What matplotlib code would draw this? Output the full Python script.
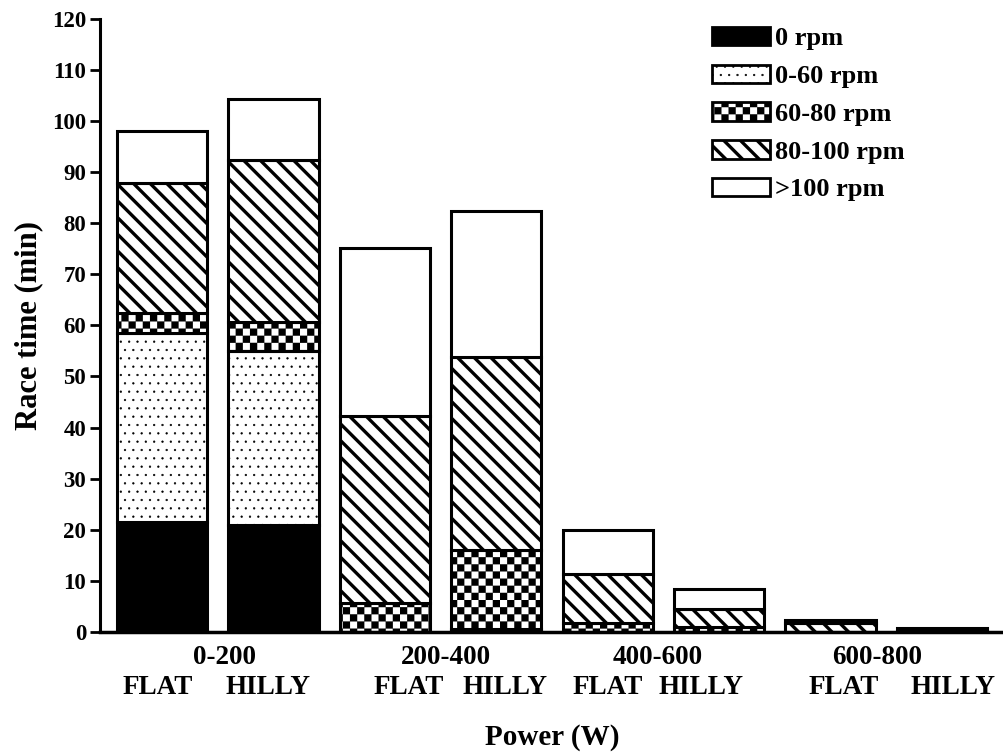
import warnings
import numpy as np
import matplotlib
matplotlib.use("Agg")
import matplotlib.pyplot as plt
import matplotlib.hatch as mhatch
from matplotlib.path import Path

warnings.filterwarnings("ignore")

# bars: FLAT / HILLY for each power band
bar_names = ["FLAT", "HILLY", "FLAT", "HILLY", "FLAT", "HILLY", "FLAT", "HILLY"]
power_bands = ["0-200", "200-400", "400-600", "600-800"]
cadence = ["0 rpm", "0-60 rpm", "60-80 rpm", "80-100 rpm", ">100 rpm"]

# minutes in each cadence band
rpm_0 = [21.5, 21.0, 0.0, 0.2, 0.0, 0.0, 0.0, 0.0]
rpm_0_60 = [37.0, 34.0, 0.0, 0.3, 0.0, 0.0, 0.0, 0.0]
rpm_60_80 = [3.9, 5.7, 5.7, 15.5, 1.8, 0.9, 0.0, 0.0]
rpm_80_100 = [25.5, 31.7, 36.6, 37.8, 9.5, 3.6, 1.8, 0.2]
rpm_100 = [10.1, 11.9, 32.8, 28.6, 8.7, 4.0, 0.6, 0.6]

# label layout (x in bar units)
band_label_x = [0.557, 2.55, 4.45, 6.42]
name_label_x = [-0.036, 0.95, 2.21, 3.08, 4.00, 4.84, 6.12, 7.10]


class Checker(mhatch.HatchPatternBase):
    # filled checkerboard hatch, selected with '#'
    def __init__(self, hatch, density):
        self.n = hatch.count('#') * 7
        self.num_vertices = self.n * self.n * 2 * 5

    def set_vertices_and_codes(self, vertices, codes):
        n = self.n
        s = 1.0 / n
        h = s / 2
        sq = np.array([[0, 0], [h, 0], [h, h], [0, h], [0, 0]], float)
        k = 0
        for i in range(n):
            for j in range(n):
                for ox, oy in ((0, 0), (h, h)):
                    vertices[k:k + 5] = sq + [i * s + ox, j * s + oy]
                    codes[k:k + 5] = [Path.MOVETO, Path.LINETO, Path.LINETO,
                                      Path.LINETO, Path.CLOSEPOLY]
                    k += 5


mhatch._hatch_types.append(Checker)

plt.rcParams['font.family'] = ['Liberation Serif', 'DejaVu Serif']
plt.rcParams['font.weight'] = 'bold'

fig = plt.figure(figsize=(10.04, 7.55), dpi=100)
ax = fig.add_axes([0.0996, 0.163, 0.9004, 0.812])

series = [rpm_0, rpm_0_60, rpm_60_80, rpm_80_100, rpm_100]
styles = [
    dict(facecolor='black', hatch=None, hlw=1.0),
    dict(facecolor='white', hatch='..', hlw=0.4),
    dict(facecolor='white', hatch='#', hlw=0.1),
    dict(facecolor='white', hatch='\\\\', hlw=2.4),
    dict(facecolor='white', hatch=None, hlw=1.0),
]

x = np.arange(len(bar_names))
bottom = np.zeros(len(bar_names))
for vals, label, st in zip(series, cadence, styles):
    vals = np.array(vals)
    bars = ax.bar(x, vals, 0.81, bottom=bottom, color=st['facecolor'],
                  edgecolor='black', linewidth=2.2, hatch=st['hatch'],
                  label=label)
    for b in bars:
        if hasattr(b, 'set_hatch_linewidth'):
            b.set_hatch_linewidth(st['hlw'])
    bottom += vals

ax.set_xlim(-0.557, 7.557)
ax.set_ylim(0, 120)
ax.set_yticks(range(0, 121, 10))
ax.tick_params(axis='y', direction='out', length=7, width=2, labelsize=16.5, pad=3)
ax.set_xticks([])
for s in ['top', 'right']:
    ax.spines[s].set_visible(False)
ax.spines['left'].set_linewidth(2.2)
ax.spines['bottom'].set_linewidth(2.5)
ax.set_ylabel("Race time (min)", fontsize=22, fontweight='bold', labelpad=6)

tr = ax.get_xaxis_transform()
for bx, band in zip(band_label_x, power_bands):
    ax.text(bx, -0.041, band, transform=tr, ha='center', va='center',
            fontsize=19.5, fontweight='bold')
for nx, name in zip(name_label_x, bar_names):
    ax.text(nx, -0.090, name, transform=tr, ha='center', va='center',
            fontsize=19.5, fontweight='bold')
ax.set_xlabel("Power (W)", fontsize=21, fontweight='bold', labelpad=66)

leg = ax.legend(loc='upper left', bbox_to_anchor=(712 / 1004, 1 - 27 / 755),
                bbox_transform=fig.transFigure, frameon=False, fontsize=19,
                handlelength=2.2, handleheight=0.7, handletextpad=0.2,
                labelspacing=0.54, borderpad=0, borderaxespad=0)
for p, st in zip(leg.get_patches(), styles):
    p.set_linewidth(2.0)
    if hasattr(p, 'set_hatch_linewidth'):
        p.set_hatch_linewidth(st['hlw'])

fig.savefig("out.png", dpi=100)
